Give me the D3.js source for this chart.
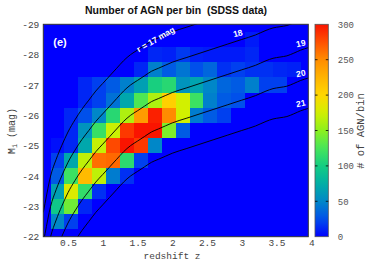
<!DOCTYPE html>
<html><head><meta charset="utf-8">
<script src="https://cdn.jsdelivr.net/npm/d3@7"></script>
<style>body{margin:0;background:#fff}svg{display:block}</style>
</head><body>
<svg id="c" width="371" height="260"></svg>
<script>
// ---------- data ----------
const zCenters = [0.35,0.55,0.75,0.95,1.15,1.35,1.55,1.75,1.95,2.15,2.35,2.55,2.75,2.95,3.15,3.35,3.55,3.75];
const mCenters = [-28.5,-28,-27.5,-27,-26.5,-26,-25.5,-25,-24.5,-24,-23.5,-23,-22.5];
const counts = [
 [0,0,0,0,0,0,0,0,0,0,0,0,0,0,8,0,0,0],
 [0,0,0,0,0,0,0,12,10,18,10,8,8,8,12,0,0,0],
 [0,0,0,0,0,0,12,47,30,42,25,35,15,20,15,15,12,10],
 [0,0,12,20,30,47,65,102,110,58,68,50,35,30,47,20,20,0],
 [0,0,12,20,40,70,128,162,205,175,120,47,30,25,0,0,0,0],
 [0,12,25,50,110,162,240,295,250,175,45,30,20,0,0,0,0,0],
 [0,12,58,118,172,285,300,300,145,30,0,0,0,0,0,0,0,0],
 [5,12,70,170,278,300,285,50,0,0,0,0,0,0,0,0,0,0],
 [20,70,168,262,265,112,20,0,0,0,0,0,0,0,0,0,0,0],
 [30,120,220,168,45,15,0,0,0,0,0,0,0,0,0,0,0,0],
 [65,180,115,15,0,0,0,0,0,0,0,0,0,0,0,0,0,0],
 [95,140,12,0,0,0,0,0,0,0,0,0,0,0,0,0,0,0],
 [50,20,0,0,0,0,0,0,0,0,0,0,0,0,0,0,0,0]
];
const xTicks = [0.5,1,1.5,2,2.5,3,3.5,4];
const yTicks = [-29,-28,-27,-26,-25,-24,-23,-22];
const cTicks = [0,50,100,150,200,250,300];
// apparent-minus-absolute magnitude (distance modulus + K)
const limitZ   = [0.145,0.17,0.25,0.33,0.41,0.5,0.6,0.7,0.8,0.9,1.0,1.1,1.2,1.3,1.4,1.5,1.6,1.7,1.8,1.9,2.0,2.2,2.4,2.6,2.8,3.0,3.2,3.35,3.45,3.55,3.65,3.75,3.85,3.958];
const limitDMK = [39.8,40.1,41.0,41.55,42.0,42.45,42.85,43.2,43.5,43.8,44.05,44.3,44.55,44.8,45.0,45.15,45.3,45.45,45.55,45.65,45.75,45.9,46.05,46.2,46.35,46.5,46.65,46.8,46.88,46.92,46.96,47.05,47.15,47.23];
const rMags = [17,18,19,20,21];
const rLabels = ["r = 17 mag","18","19","20","21"];
const cmapStops = [0,25,50,75,100,125,150,175,200,225,250,275,300];
const cmapColors = ["#0000ff","#0050eb","#0087c8","#00afa5","#14cd82","#46e65a","#8cf01e","#d2f000","#ffd700","#ffb400","#ff8c00","#ff5000","#fa1400"];

// ---------- layout ----------
const L=43.3, T=24.3, R=308.3, B=236.7;
const svg = d3.select("#c");
const x = d3.scaleLinear().domain([0.145,3.958]).range([L,R]);
const y = d3.scaleLinear().domain([-29,-22]).range([T,B]);
const color = d3.scaleLinear().domain(cmapStops).range(cmapColors).clamp(true);
const monoFont = "'Liberation Mono','DejaVu Sans Mono',monospace";
const sansFont = "'Liberation Sans',Arial,sans-serif";

svg.append("defs").append("clipPath").attr("id","pc")
  .append("rect").attr("x",L).attr("y",T).attr("width",R-L).attr("height",B-T);

svg.append("rect").attr("x",L).attr("y",T).attr("width",R-L).attr("height",B-T).attr("fill",color(0));

const cells=[];
mCenters.forEach((m,j)=>zCenters.forEach((z,i)=>cells.push({z,m,v:counts[j][i]})));
svg.append("g").attr("clip-path","url(#pc)").selectAll("rect").data(cells).join("rect")
  .attr("x",d=>x(d.z-0.1)).attr("y",d=>y(d.m-0.25))
  .attr("width",d=>x(d.z+0.1)-x(d.z-0.1)+0.3).attr("height",d=>y(d.m+0.25)-y(d.m-0.25)+0.3)
  .attr("fill",d=>color(d.v)).attr("shape-rendering","crispEdges");

// limit curves
const line = d3.line().curve(d3.curveMonotoneX);
const gl = svg.append("g").attr("clip-path","url(#pc)");
rMags.forEach(r=>{
  gl.append("path").attr("d",line(limitZ.map((z,k)=>[x(z),y(r-limitDMK[k])])))
    .attr("fill","none").attr("stroke","#000").attr("stroke-width",0.9);
});

// curve labels
const labPos = [[156,40,-30],[238,34,-14],[301,44,-12],[301,74,-12],[301,104,-12]];
rLabels.forEach((t,k)=>{
  svg.append("text").attr("transform",`translate(${labPos[k][0]},${labPos[k][1]}) rotate(${labPos[k][2]})`)
    .attr("text-anchor","middle").attr("dominant-baseline","middle")
    .attr("font-family",sansFont).attr("font-weight","bold").attr("font-size",8.5)
    .attr("fill","#fff").text(t);
});
svg.append("text").attr("x",60).attr("y",46).attr("text-anchor","middle")
  .attr("font-family",sansFont).attr("font-weight","bold").attr("font-size",11)
  .attr("fill","#fff").text("(e)");

// border
svg.append("rect").attr("x",L).attr("y",T).attr("width",R-L).attr("height",B-T)
  .attr("fill","none").attr("stroke","#333").attr("stroke-width",1);

// axes
const xa = svg.append("g").attr("transform",`translate(0,${B})`)
  .call(d3.axisBottom(x).tickValues(xTicks).tickSize(0).tickPadding(3).tickFormat(d=>String(d)));
const ya = svg.append("g").attr("transform",`translate(${L},0)`)
  .call(d3.axisLeft(y).tickValues(yTicks).tickSize(0).tickPadding(4).tickFormat(d=>String(d)));
[xa,ya].forEach(g=>{g.select(".domain").remove();
  g.selectAll("text").attr("font-family",monoFont).attr("font-size",9.5).attr("fill","#444");});

svg.append("text").attr("x",172).attr("y",258.5).attr("text-anchor","middle")
  .attr("font-family",monoFont).attr("font-size",9.5).attr("fill","#444").text("redshift z");
const yl = svg.append("text").attr("transform","translate(15,131) rotate(-90)").attr("text-anchor","middle")
  .attr("font-family",monoFont).attr("font-size",10).attr("fill","#444");
yl.append("tspan").text("M");
yl.append("tspan").attr("font-size",7).attr("dy",2).text("i");
yl.append("tspan").attr("dy",-2).text(" (mag)");

// title
svg.append("text").attr("x",176).attr("y",14).attr("text-anchor","middle")
  .style("white-space","pre")
  .attr("font-family",sansFont).attr("font-weight","bold").attr("font-size",10.5)
  .attr("fill","#111").text("Number of AGN per bin  (SDSS data)");

// colorbar
const CL=315, CR=328.3;
const cy = d3.scaleLinear().domain([0,300]).range([B,T]);
const grad = svg.select("defs").append("linearGradient").attr("id","cg")
  .attr("x1",0).attr("y1",1).attr("x2",0).attr("y2",0);
d3.range(0,301,10).forEach(v=>grad.append("stop").attr("offset",v/300).attr("stop-color",color(v)));
svg.append("rect").attr("x",CL).attr("y",T).attr("width",CR-CL).attr("height",B-T)
  .attr("fill","url(#cg)").attr("stroke","#555").attr("stroke-width",0.8);
cTicks.slice(1,-1).forEach(v=>{
  svg.append("line").attr("x1",CL).attr("x2",CL+2.5).attr("y1",cy(v)).attr("y2",cy(v)).attr("stroke","#000").attr("stroke-width",0.8);
  svg.append("line").attr("x1",CR-2.5).attr("x2",CR).attr("y1",cy(v)).attr("y2",cy(v)).attr("stroke","#000").attr("stroke-width",0.8);
});
const ca = svg.append("g").attr("transform",`translate(${CR},0)`)
  .call(d3.axisRight(cy).tickValues(cTicks).tickSize(0).tickPadding(9.5).tickFormat(d=>String(d)));
ca.select(".domain").remove();
ca.selectAll("text").attr("font-family",monoFont).attr("font-size",9).attr("fill","#555");
svg.append("text").attr("transform","translate(364,131) rotate(-90)").attr("text-anchor","middle")
  .attr("font-family",monoFont).attr("font-size",10.5).attr("fill","#444").text("# of AGN/bin");
</script>
</body></html>
